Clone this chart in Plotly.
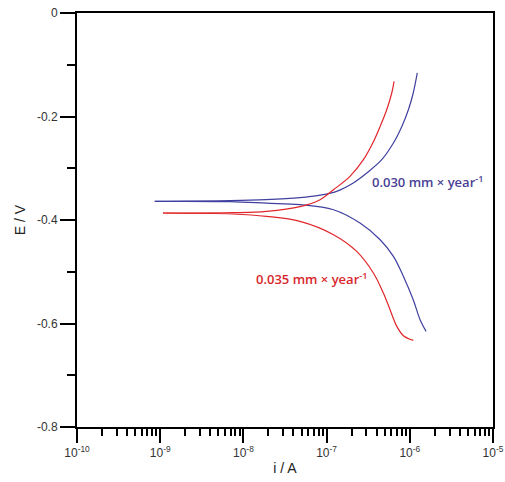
import plotly.graph_objects as go

# Blue sample (0.030 mm/year): anodic and cathodic branches
blue_anodic_i = [8.61e-10, 6.89e-9, 1.87e-8, 4.79e-8, 8.34e-8, 1.32e-7, 2.09e-7, 3.04e-7, 4.60e-7, 6.35e-7, 8.02e-7, 9.62e-7, 1.10e-6, 1.23e-6]
blue_anodic_E = [-0.3641, -0.3627, -0.3608, -0.3569, -0.3521, -0.3447, -0.3285, -0.3092, -0.2835, -0.2512, -0.2191, -0.1869, -0.1546, -0.1159]
blue_cath_i = [8.61e-10, 6.89e-9, 1.90e-8, 4.79e-8, 1.21e-7, 2.52e-7, 4.40e-7, 6.35e-7, 8.38e-7, 1.10e-6, 1.33e-6, 1.57e-6]
blue_cath_E = [-0.3641, -0.3646, -0.3675, -0.3704, -0.3801, -0.4058, -0.4381, -0.4703, -0.5090, -0.5540, -0.5927, -0.6153]

# Red sample (0.035 mm/year)
red_anodic_i = [1.08e-9, 7.48e-9, 1.90e-8, 4.79e-8, 8.34e-8, 1.21e-7, 1.91e-7, 2.77e-7, 3.59e-7, 4.40e-7, 5.28e-7, 6.07e-7, 6.47e-7]
red_anodic_E = [-0.3865, -0.3859, -0.3834, -0.3743, -0.3608, -0.3415, -0.3158, -0.2835, -0.2512, -0.2191, -0.1869, -0.1546, -0.1322]
red_cath_i = [1.08e-9, 7.48e-9, 1.90e-8, 4.79e-8, 1.21e-7, 2.30e-7, 3.65e-7, 4.81e-7, 5.79e-7, 6.98e-7, 8.38e-7, 1.10e-6]
red_cath_E = [-0.3865, -0.3884, -0.3930, -0.4027, -0.4284, -0.4607, -0.5024, -0.5411, -0.5733, -0.6056, -0.6236, -0.6327]

x_tickvals = [1e-10, 1e-9, 1e-8, 1e-7, 1e-6, 1e-5]
x_ticktext = ["10<sup>-10</sup>", "10<sup>-9</sup>", "10<sup>-8</sup>", "10<sup>-7</sup>", "10<sup>-6</sup>", "10<sup>-5</sup>"]
x_minor_mult = [2, 3, 4, 5, 6, 7, 8, 9]
y_tickvals = [0, -0.2, -0.4, -0.6, -0.8]
y_ticktext = ["0", "-0.2", "-0.4", "-0.6", "-0.8"]
y_minor_vals = [-0.1, -0.3, -0.5, -0.7]

x_minor_vals = [m * d for d in x_tickvals[:-1] for m in x_minor_mult]

blue = "#4040a0"
red = "#e0262a"

fig = go.Figure()
for xs, ys, c in [(blue_anodic_i, blue_anodic_E, blue), (blue_cath_i, blue_cath_E, blue),
                  (red_anodic_i, red_anodic_E, red), (red_cath_i, red_cath_E, red)]:
    fig.add_trace(go.Scatter(x=xs, y=ys, mode="lines", line=dict(color=c, width=1.2, shape="spline", smoothing=1.0),
                             showlegend=False, hoverinfo="skip"))

fig.add_annotation(x=-5.786, y=-0.326, xref="x", yref="y", text="0.030 mm × year<sup>-1</sup>",
                   showarrow=False, xanchor="center", yanchor="middle",
                   font=dict(family="Open Sans", size=13, color="#4a3f96", weight=600))
fig.add_annotation(x=-7.182, y=-0.513, xref="x", yref="y", text="0.035 mm × year<sup>-1</sup>",
                   showarrow=False, xanchor="center", yanchor="middle",
                   font=dict(family="Open Sans", size=13, color="#d8262c", weight=600))

axis_font = dict(family="Liberation Sans, Arial", size=12, color="#333333")
fig.update_xaxes(type="log", range=[-10, -5], tickmode="array", tickvals=x_tickvals, ticktext=x_ticktext,
                 ticks="outside", ticklen=14, tickwidth=2, tickcolor="black",
                 showline=True, linecolor="black", linewidth=2, mirror=True, automargin=False,
                 showgrid=False, zeroline=False, tickfont=axis_font, ticklabeloverflow="allow",
                 minor=dict(ticks="outside", ticklen=7, tickwidth=2, tickcolor="black",
                            tickmode="array", tickvals=x_minor_vals, showgrid=False),
                 title=dict(text="i / A", font=dict(family="Liberation Sans, Arial", size=14, color="#222222"), standoff=4))
fig.update_yaxes(range=[-0.8, 0], tickmode="array", tickvals=y_tickvals, ticktext=y_ticktext,
                 ticks="outside", ticklen=15, tickwidth=2, tickcolor="black",
                 showline=True, linecolor="black", linewidth=2, mirror=True, automargin=False,
                 showgrid=False, zeroline=False, tickfont=axis_font, ticklabeloverflow="allow",
                 minor=dict(ticks="outside", ticklen=8, tickwidth=2, tickcolor="black",
                            tickmode="array", tickvals=y_minor_vals, showgrid=False),
                 title=dict(text="E / V", font=dict(family="Liberation Sans, Arial", size=14, color="#222222"), standoff=8))

fig.update_layout(width=505, height=482, margin=dict(l=77, r=12, t=13, b=55),
                  plot_bgcolor="white", paper_bgcolor="white")
# remove the browser's default 8px body margin so the figure fills the 505x482 window exactly
fig.write_html("out.html", config={"displayModeBar": False},
               post_script="document.body.style.margin='0';document.body.style.overflow='hidden';")
